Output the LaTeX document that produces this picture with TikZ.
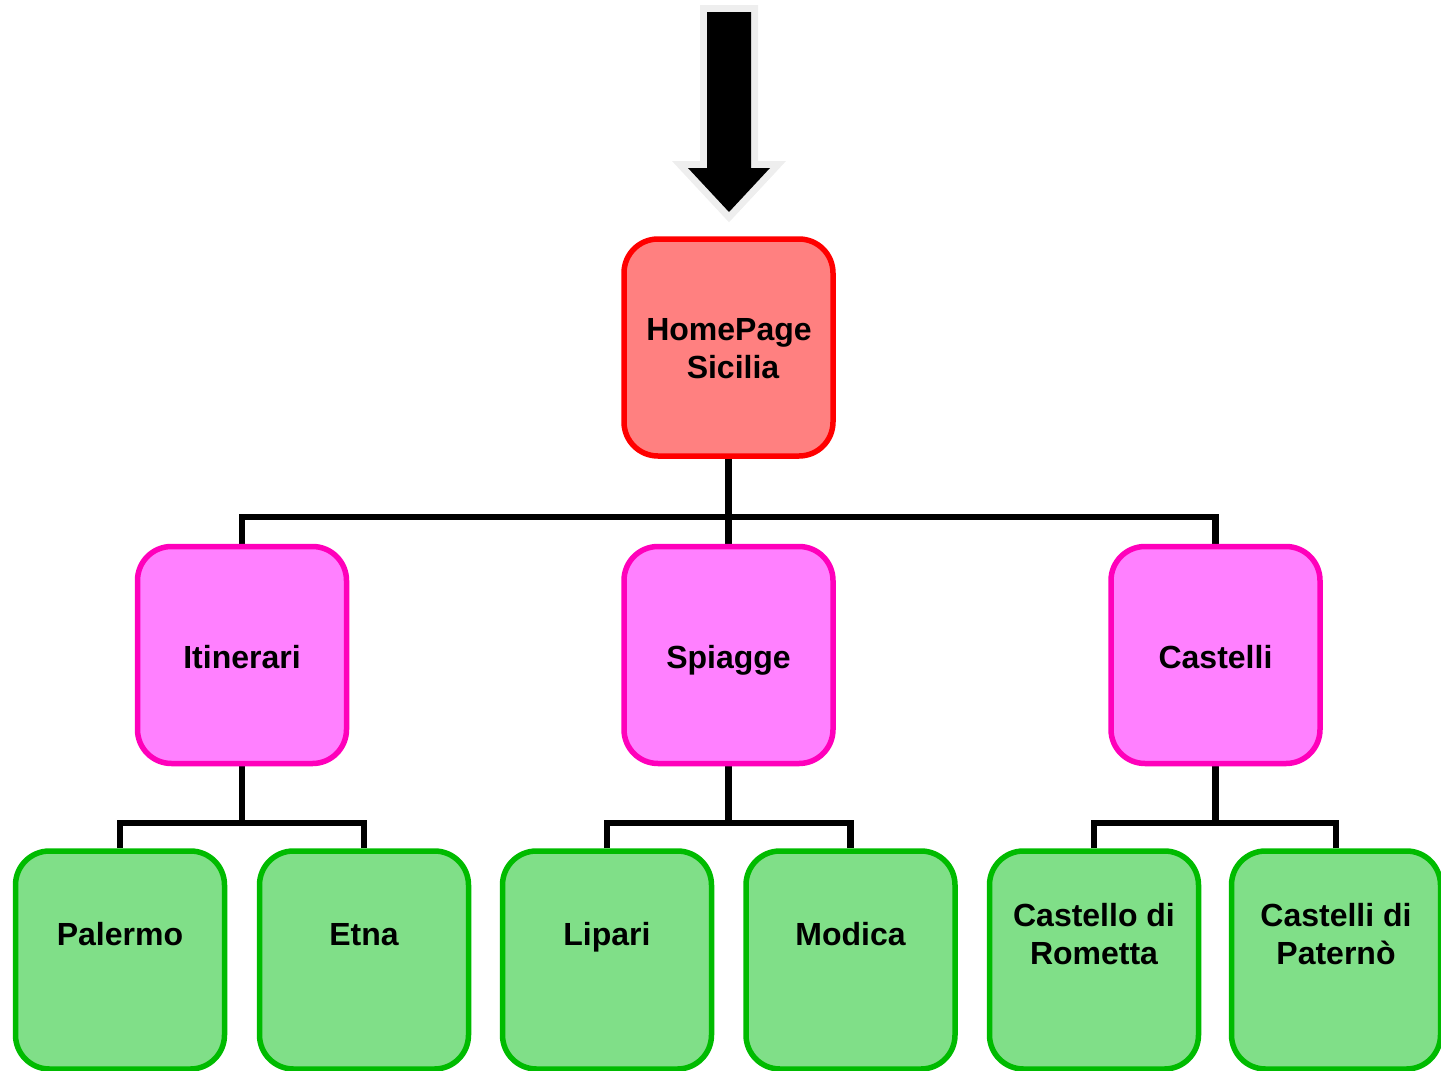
\documentclass[tikz,border=0pt]{standalone}
\usepackage{fontspec}
\setmainfont{Liberation Sans}
\definecolor{homefill}{HTML}{FF8080}
\definecolor{homeline}{HTML}{FF0000}
\definecolor{midfill}{HTML}{FF80FF}
\definecolor{midline}{HTML}{FF00BB}
\definecolor{leaffill}{HTML}{80DF88}
\definecolor{leafline}{HTML}{00BB00}
\definecolor{arrowedge}{HTML}{EEEEEE}
\pgfdeclarelayer{bg}
\pgfsetlayers{bg,main}
\begin{document}
\begin{tikzpicture}[x=1pt,y=-1pt,
  box/.style={rounded corners=34pt,line width=5.5pt,minimum width=209pt,minimum height=217pt,inner sep=0pt},
  homebox/.style={box,draw=homeline,fill=homefill},
  midbox/.style={box,draw=midline,fill=midfill},
  leafbox/.style={box,draw=leafline,fill=leaffill,minimum height=218pt},
  lbl/.style={font=\fontsize{32}{38}\selectfont\bfseries,align=center,inner sep=0pt},
  lblb/.style={lbl,anchor=base},
  conn/.style={line width=6.5pt,line join=miter,black}]
\useasboundingbox (0,0) rectangle (1441,1071);
% entry arrow
\fill[black!12] (711,16) -- (755,16) -- (755,172) -- (775,172) -- (733,217) -- (691,172) -- (711,172) -- cycle;
\draw[arrowedge,line width=14pt,line join=miter,fill=arrowedge] (707,12) -- (751,12) -- (751,168) -- (770,168) -- (729,212) -- (688,168) -- (707,168) -- cycle;
\fill[black] (707,12) -- (751,12) -- (751,168) -- (770,168) -- (729,212) -- (688,168) -- (707,168) -- cycle;
% nodes
\node[homebox] (home) at (728.5,347.5) {};
\node[lbl] (homet) at (729,349) {HomePage\\ \hspace{8pt}Sicilia};
\node[midbox] (itin) at (242,655) {};
\node[midbox] (spia) at (728.5,655) {};
\node[midbox] (cast) at (1215.5,655) {};
\node[lblb] (itint) at (242,668) {Itinerari};
\node[lblb] (spiat) at (728.5,668) {Spiagge};
\node[lblb] (castt) at (1215.5,668) {Castelli};
\node[leafbox] (pal) at (120,960) {};
\node[leafbox] (etna) at (364,960) {};
\node[leafbox] (lip) at (607,960) {};
\node[leafbox] (mod) at (850.5,960) {};
\node[leafbox] (rom) at (1094,960) {};
\node[leafbox] (pat) at (1336,960) {};
\node[lblb] (palt) at (120,945) {Palermo};
\node[lblb] (etnat) at (364,945) {Etna};
\node[lblb] (lipt) at (607,945) {Lipari};
\node[lblb] (modt) at (850.5,945) {Modica};
\node[lbl] (romt) at ([yshift=26pt]rom.center) {Castello di\\Rometta};
\node[lbl] (patt) at ([yshift=26pt]pat.center) {Castelli di\\Paternò};
% bus coordinates
\coordinate (b0) at (728.5,517);
\coordinate (b1) at (242,823);
\coordinate (b2) at (728.5,823);
\coordinate (b3) at (1215.5,823);
% connectors behind the boxes
\begin{pgfonlayer}{bg}
\draw[conn] (home.south) -- (b0);
\draw[conn] (itin.north) |- (b0);
\draw[conn] (cast.north) |- (b0);
\draw[conn] (spia.north) -- (b0);
\draw[conn] (itin.south) -- (b1);
\draw[conn] (pal.north) |- (b1);
\draw[conn] (etna.north) |- (b1);
\draw[conn] (spia.south) -- (b2);
\draw[conn] (lip.north) |- (b2);
\draw[conn] (mod.north) |- (b2);
\draw[conn] (cast.south) -- (b3);
\draw[conn] (rom.north) |- (b3);
\draw[conn] (pat.north) |- (b3);
\end{pgfonlayer}
\end{tikzpicture}
\end{document}
